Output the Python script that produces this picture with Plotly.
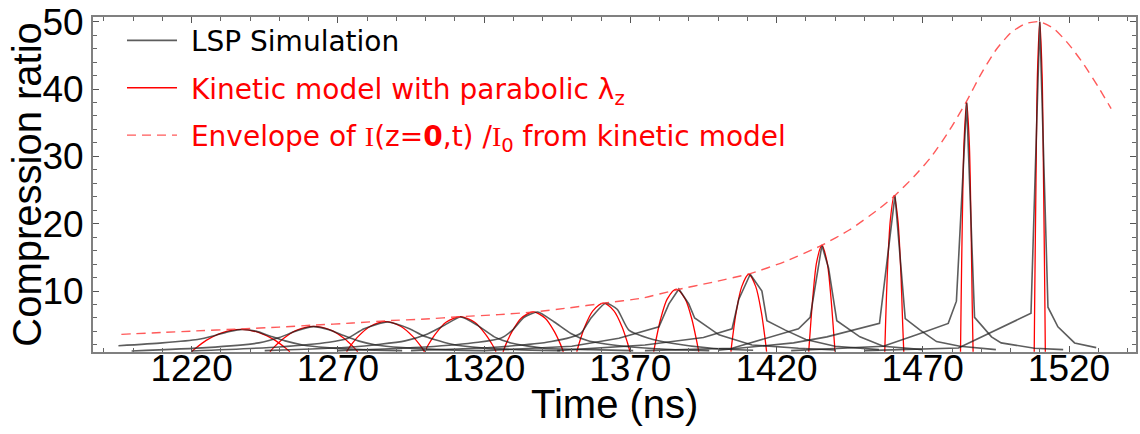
import plotly.graph_objects as go

# ---- LSP simulation: compression ratio of the 12 successive pulses ----
lsp_times = [
    [1195, 1210, 1222, 1228, 1233, 1237.3, 1242, 1247, 1252, 1258, 1266, 1278, 1292],
    [1199.5, 1225, 1243, 1250, 1256, 1261.6, 1267, 1272, 1277, 1283, 1292, 1305, 1320],
    [1220, 1250, 1267, 1273, 1279, 1287, 1294.5, 1299, 1303, 1309, 1318, 1331, 1346],
    [1245, 1275, 1293, 1300, 1306.4, 1312, 1317.8, 1323.5, 1329.2, 1340.5, 1356, 1371],
    [1270, 1300, 1318, 1325.7, 1329.7, 1333.7, 1338.3, 1344, 1349.7, 1355.3, 1367.8, 1382, 1397],
    [1295, 1325, 1343, 1353, 1356.4, 1361.6, 1365.5, 1369.5, 1376.3, 1384.2, 1397.9, 1412],
    [1320, 1350, 1366.1, 1379.8, 1383.2, 1386.6, 1390, 1392, 1400.3, 1411.6, 1427.5, 1440],
    [1345, 1375, 1395, 1404.8, 1407.1, 1411, 1415, 1416.7, 1423, 1430, 1440, 1455],
    [1375, 1404.8, 1427.5, 1431.5, 1435.5, 1437.8, 1440.6, 1448.5, 1456.5, 1470],
    [1400, 1425.8, 1437.2, 1445.7, 1455.2, 1460.5, 1464, 1469.1, 1474.7, 1482.7, 1495],
    [1425, 1456.5, 1467.9, 1478.7, 1481.5, 1485, 1487.7, 1493.5, 1496.8, 1508.2, 1518],
    [1450, 1482.2, 1507, 1510, 1512.8, 1516.2, 1521.9, 1529.3],
]
lsp_ratio = [
    [1.87, 2.3, 2.8, 3.4, 4.0, 4.3, 4.05, 3.3, 2.6, 2.0, 1.6, 1.3, 1.15],
    [1.1, 1.6, 2.3, 3.1, 4.1, 4.72, 4.25, 3.4, 2.6, 2.0, 1.6, 1.3, 1.15],
    [1.1, 1.7, 2.4, 2.9, 4.4, 5.4, 4.4, 3.4, 2.8, 2.1, 1.6, 1.3, 1.15],
    [1.15, 1.7, 2.6, 3.5, 4.9, 6.15, 4.9, 3.2, 2.3, 1.5, 1.3, 1.15],
    [1.15, 1.7, 2.4, 3.0, 4.2, 6.1, 6.88, 5.4, 3.7, 2.65, 1.8, 1.35, 1.15],
    [1.15, 1.7, 2.5, 3.7, 5.9, 8.2, 7.3, 4.2, 3.0, 2.26, 1.5, 1.2],
    [1.15, 1.8, 3.0, 4.7, 8.1, 10.3, 8.1, 6.0, 3.5, 2.0, 1.5, 1.25],
    [1.15, 2.0, 3.1, 4.4, 8.8, 12.5, 10.0, 5.6, 4.2, 2.8, 1.8, 1.3],
    [1.15, 1.5, 4.4, 6.1, 16.8, 13.4, 5.6, 3.2, 1.8, 1.3],
    [1.2, 2.3, 3.2, 4.1, 5.2, 24.2, 5.9, 4.2, 2.5, 1.8, 1.3],
    [1.15, 1.8, 3.5, 5.2, 8.5, 38.0, 6.1, 3.2, 2.3, 1.5, 1.3],
    [1.15, 1.54, 6.7, 50.0, 7.6, 4.7, 2.3, 1.6],
]
lsp_smooth = [True, True, True, True, True, True, False, False, False, False, False, False]

# ---- Kinetic model with parabolic lambda_z: one arc per pulse ----
kin_times = [
    [1220.0, 1221.7, 1225.0, 1230.1, 1236.8, 1243.5, 1248.6, 1251.9, 1253.6],
    [1246.8, 1248.3, 1251.3, 1255.8, 1261.8, 1267.8, 1272.3, 1275.3, 1276.8],
    [1273.0, 1274.3, 1277.0, 1281.0, 1286.3, 1291.6, 1295.6, 1298.3, 1299.6],
    [1299.7, 1300.9, 1303.4, 1307.0, 1311.9, 1316.8, 1320.4, 1322.9, 1324.1],
    [1326.5, 1327.5, 1329.6, 1332.7, 1336.8, 1340.9, 1344.0, 1346.1, 1347.1],
    [1351.7, 1352.6, 1354.4, 1357.2, 1360.8, 1364.4, 1367.2, 1369.0, 1369.9],
    [1378.0, 1378.8, 1380.3, 1382.6, 1385.7, 1388.8, 1391.1, 1392.6, 1393.4],
    [1404.4, 1405.0, 1406.2, 1408.1, 1410.5, 1412.9, 1414.8, 1416.0, 1416.6],
    [1431.0, 1431.5, 1432.4, 1433.7, 1435.5, 1437.3, 1438.6, 1439.5, 1440.0],
    [1457.0, 1457.3, 1457.9, 1458.9, 1460.2, 1461.5, 1462.5, 1463.1, 1463.5],
    [1482.9, 1483.1, 1483.5, 1484.1, 1485.0, 1485.9, 1486.5, 1486.9, 1487.2],
    [1508.1, 1508.3, 1508.7, 1509.2, 1510.0, 1510.8, 1511.3, 1511.7, 1511.9],
]
kin_ratio = [
    [1.0, 1.63, 2.68, 3.77, 4.3, 3.77, 2.68, 1.63, 1.0],
    [1.0, 1.71, 2.91, 4.15, 4.75, 4.15, 2.91, 1.71, 1.0],
    [1.0, 1.85, 3.27, 4.74, 5.45, 4.74, 3.27, 1.85, 1.0],
    [1.0, 1.99, 3.65, 5.37, 6.2, 5.37, 3.65, 1.99, 1.0],
    [1.0, 2.12, 4.01, 5.96, 6.9, 5.96, 4.01, 2.12, 1.0],
    [1.0, 2.37, 4.67, 7.05, 8.2, 7.05, 4.67, 2.37, 1.0],
    [1.0, 2.77, 5.74, 8.81, 10.3, 8.81, 5.74, 2.77, 1.0],
    [1.0, 3.19, 6.87, 10.66, 12.5, 10.66, 6.87, 3.19, 1.0],
    [1.0, 4.0, 9.06, 14.27, 16.8, 14.27, 9.06, 4.0, 1.0],
    [1.0, 5.41, 12.83, 20.49, 24.2, 20.49, 12.83, 5.41, 1.0],
    [1.0, 8.03, 19.87, 32.08, 38.0, 32.08, 19.87, 8.03, 1.0],
    [1.0, 10.31, 25.99, 42.16, 50.0, 42.16, 25.99, 10.31, 1.0],
]

# ---- Envelope of I(z=0,t)/I0 from the kinetic model ----
env_time = [1196, 1210, 1220, 1237, 1250, 1262, 1275, 1287, 1300, 1312, 1325, 1337,
            1349, 1361, 1374, 1386, 1398, 1411, 1423, 1435, 1445, 1455, 1460.5, 1467,
            1473, 1479, 1485, 1490, 1495, 1500, 1505, 1510, 1515, 1520, 1525, 1530, 1534.4]
env_ratio = [3.57, 3.85, 4.05, 4.38, 4.65, 4.95, 5.25, 5.6, 5.85, 6.2, 6.5, 6.9,
             7.5, 8.2, 8.95, 10.2, 11.3, 12.6, 14.4, 16.7, 19.1, 22.2, 24.2, 27.0,
             30.0, 33.8, 38.2, 42.3, 45.8, 48.3, 49.7, 50.0, 48.9, 46.6, 43.7, 40.3, 37.1]

x_ticks = [1220, 1270, 1320, 1370, 1420, 1470, 1520]
y_ticks = [10, 20, 30, 40, 50]

FONT = "Liberation Sans, Arial, sans-serif"
LEGEND_FONT = "DejaVu Sans, Liberation Sans, sans-serif"
SERIF = "'Liberation Serif', 'Times New Roman', serif"
RED = "#ff0000"
NBSP = "\u00a0"

lsp_name = NBSP + "LSP Simulation"
kin_name = (NBSP + '<span style="color:#ff0000">Kinetic model with parabolic '
            'λ<sub>z</sub></span>')
env_name = (NBSP + '<span style="color:#ff0000">Envelope of '
            f'<span style="font-family:{SERIF}">I</span>(z=<b>0</b>,t) /'
            f'<span style="font-family:{SERIF}">I</span><sub>0</sub> from kinetic model</span>')

fig = go.Figure()

for i, (t, v) in enumerate(zip(kin_times, kin_ratio)):
    fig.add_trace(go.Scatter(
        x=t, y=v, mode="lines", name=kin_name,
        line=dict(color=RED, width=1.3, shape="spline", smoothing=0.8),
        legendgroup="kin", showlegend=(i == 0), legendrank=2,
    ))

for i, (t, v) in enumerate(zip(lsp_times, lsp_ratio)):
    fig.add_trace(go.Scatter(
        x=t, y=v, mode="lines", name=lsp_name,
        line=dict(color="rgba(30,30,30,0.72)", width=1.6,
                  shape="spline" if lsp_smooth[i] else "linear", smoothing=0.6),
        legendgroup="lsp", showlegend=(i == 0), legendrank=1,
    ))

fig.add_trace(go.Scatter(
    x=env_time, y=env_ratio, mode="lines", name=env_name,
    line=dict(color="rgba(255,60,60,0.85)", width=1.4, dash="9px,6px",
              shape="spline", smoothing=0.6),
    legendgroup="env", showlegend=True, legendrank=3,
))

axis_common = dict(
    showgrid=False, zeroline=False, showline=True, mirror="allticks",
    linecolor="#808080", linewidth=2,
    ticks="inside", ticklen=6, tickwidth=1, tickcolor="#555555",
    tickfont=dict(family=FONT, size=37, color="black"),
    ticklabeloverflow="allow",
)

fig.update_xaxes(
    range=[1186.3, 1542.9], tickmode="array", tickvals=x_ticks,
    ticklabelstandoff=-17,
    minor=dict(ticks="inside", ticklen=4, tickcolor="#666666", dtick=10, tick0=1220),
    **axis_common,
)
fig.update_yaxes(
    range=[0.95, 50.7], tickmode="array", tickvals=y_ticks,
    minor=dict(ticks="inside", ticklen=4, tickcolor="#666666", dtick=2, tick0=0),
    **axis_common,
)

fig.add_annotation(text="Time (ns)", xref="paper", yref="paper", x=0.5, y=-0.155,
                   xanchor="center", yanchor="middle", showarrow=False,
                   font=dict(family=FONT, size=40, color="black"))
fig.add_annotation(text="Compression ratio", xref="paper", yref="paper",
                   x=-0.064, y=0.5, xanchor="center", yanchor="middle",
                   textangle=-90, showarrow=False,
                   font=dict(family=FONT, size=40, color="black"))

fig.update_layout(
    width=1140, height=434,
    margin=dict(l=93, r=2, t=9, b=82),
    paper_bgcolor="white", plot_bgcolor="white",
    showlegend=True,
    legend=dict(x=0.0278, y=1.004, xanchor="left", yanchor="top",
                bgcolor="rgba(0,0,0,0)", borderwidth=0, itemwidth=50,
                font=dict(family=LEGEND_FONT, size=28, color="black"),
                tracegroupgap=8, traceorder="grouped"),
)

fig.write_html("out.html")
